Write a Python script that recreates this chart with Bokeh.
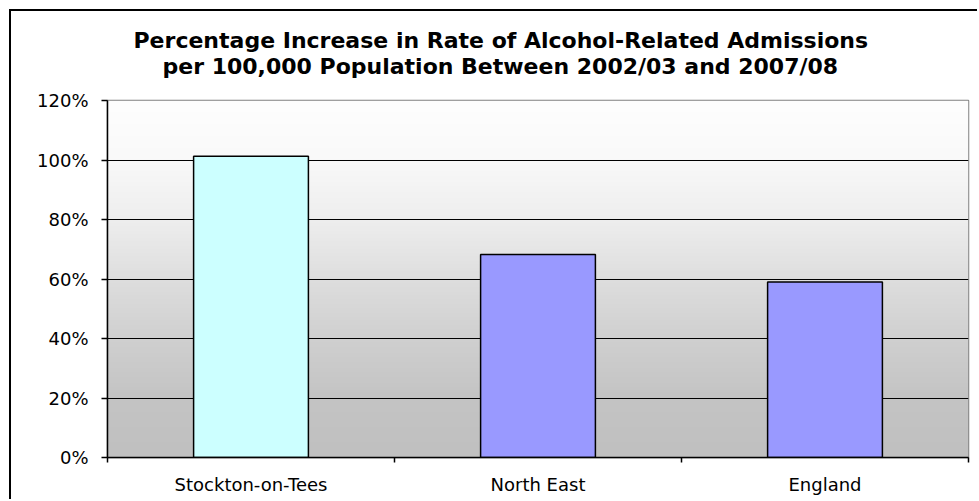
import numpy as np
from bokeh.plotting import figure
from bokeh.models import FixedTicker, NumeralTickFormatter, Range1d, Title
from bokeh.embed import file_html
from bokeh.resources import INLINE

# Percentage increase in alcohol-related admission rates, 2002/03 -> 2007/08
regions = ["Stockton-on-Tees", "North East", "England"]
increase = [1.013, 0.682, 0.590]
bar_colors = ["#CCFFFF", "#9999FF", "#9999FF"]
y_ticks = [0.0, 0.2, 0.4, 0.6, 0.8, 1.0, 1.2]
title_lines = [
    "Percentage Increase in Rate of Alcohol-Related Admissions",
    "per 100,000 Population Between 2002/03 and 2007/08",
]

FONT = "DejaVu Sans"

x_pos = [i + 0.5 for i in range(len(regions))]
boundaries = list(range(len(regions) + 1))

p = figure(
    width=968, height=490, title=None,
    output_backend="svg", toolbar_location=None,
    x_range=Range1d(0, len(regions)), y_range=Range1d(0, y_ticks[-1]),
    min_border_left=96, min_border_right=11,
    min_border_top=89, min_border_bottom=44,
)
p.styles = {
    "margin-left": "9px", "margin-top": "9px",
    "border-top": "2px solid #000", "border-left": "2px solid #000",
}
p.background_fill_color = "white"
p.border_fill_color = "white"
p.outline_line_color = "#808080"
p.outline_line_width = 1.5

# vertical grey gradient behind the plot area
grad_levels = [0.0, 0.2, 0.4, 0.6, 0.8, 1.0, 1.2]
grad_greys = [192, 196, 208, 222, 238, 249, 254]
n = 240
ys = np.linspace(0, y_ticks[-1], n)
g = np.interp(ys, grad_levels, grad_greys).astype(np.uint8)
img = np.empty((n, 2), dtype=np.uint32)
view = img.view(dtype=np.uint8).reshape((n, 2, 4))
view[..., 0] = g[:, None]
view[..., 1] = g[:, None]
view[..., 2] = g[:, None]
view[..., 3] = 255
p.image_rgba(image=[img], x=0, y=0, dw=len(regions), dh=y_ticks[-1], level="image")

# bars
p.vbar(x=x_pos, top=increase, bottom=0, width=0.4,
       fill_color=bar_colors, line_color="black", line_width=1.5)

# grid
p.xgrid.visible = False
p.ygrid.ticker = FixedTicker(ticks=y_ticks[1:-1])
p.ygrid.grid_line_color = "black"
p.ygrid.grid_line_width = 1.2

# y axis
p.yaxis.ticker = FixedTicker(ticks=y_ticks)
p.yaxis.formatter = NumeralTickFormatter(format="0%")
p.yaxis.major_tick_out = 6
p.yaxis.major_tick_in = 0
p.yaxis.major_label_standoff = 13

# x axis: labels centred in each category, ticks on category boundaries
p.xaxis.ticker = FixedTicker(ticks=x_pos, minor_ticks=boundaries)
p.xaxis.major_label_overrides = {x: name for x, name in zip(x_pos, regions)}
p.xaxis.major_tick_line_color = None
p.xaxis.minor_tick_line_color = "black"
p.xaxis.minor_tick_line_width = 1.5
p.xaxis.minor_tick_out = 5
p.xaxis.minor_tick_in = 0
p.xaxis.major_label_standoff = 10

for ax in (p.xaxis, p.yaxis):
    ax.axis_line_color = "black"
    ax.axis_line_width = 1.5
    ax.major_tick_line_width = 1.5
    ax.major_label_text_font = FONT
    ax.major_label_text_font_size = "18px"
    ax.major_label_text_color = "black"

# two-line bold title: second line sits nearest the plot area
for text, standoff, offset in zip(reversed(title_lines), [43, -45], [55, 26]):
    p.add_layout(Title(
        text=text, align="left", offset=offset, standoff=standoff,
        text_font=FONT, text_font_style="bold", text_font_size="22px",
        text_color="black",
    ), "above")

open("out.html", "w").write(file_html(p, INLINE))
